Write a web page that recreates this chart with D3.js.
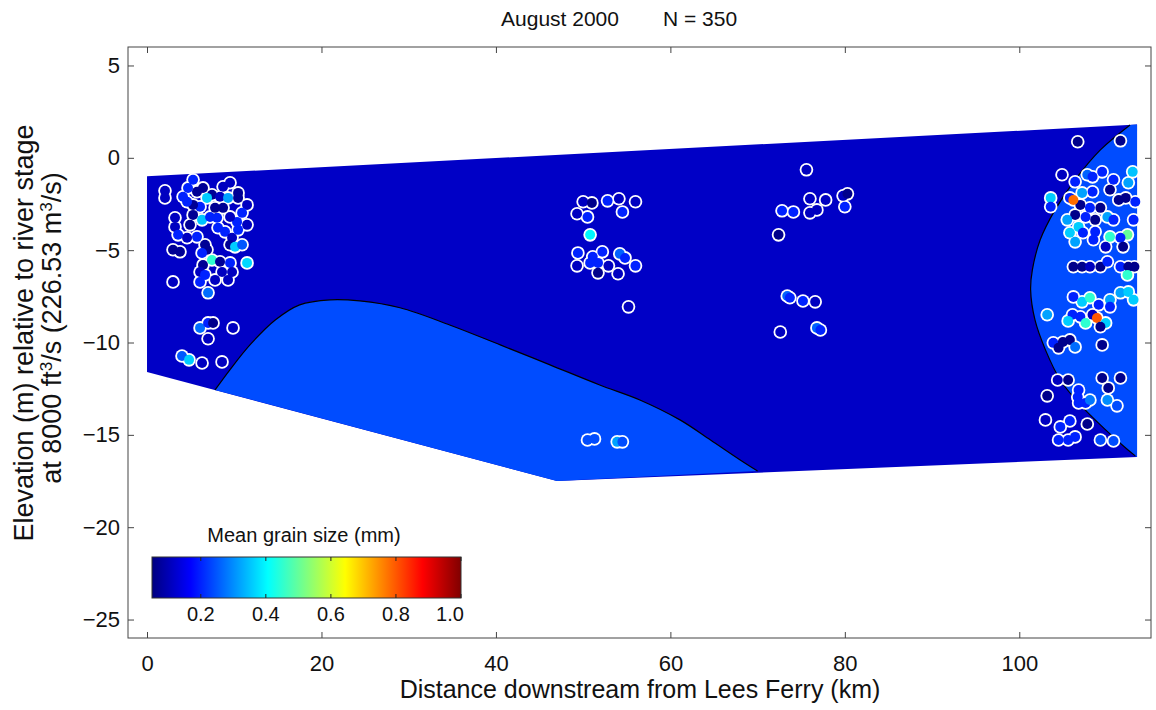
<!DOCTYPE html>
<html>
<head>
<meta charset="utf-8">
<script src="https://cdn.jsdelivr.net/npm/d3@7"></script>
<style>
  body { margin: 0; background: #fff; }
  text { font-family: "Liberation Sans", Arial, sans-serif; fill: #111; }
</style>
</head>
<body>
<svg id="vis" width="1156" height="710"></svg>
<script>
var MARGINS = {top: 47, right: 5, bottom: 72, left: 128};
var width = 1156, height = 710;

// axis ticks
var xTicks = [0, 20, 40, 60, 80, 100];
var yTicks = [5, 0, -5, -10, -15, -20, -25];
var cbTicks = [0.2, 0.4, 0.6, 0.8, 1.0];

// cross-section outline (km downstream, m elevation) and contour patches
var sectionOutline = [[0, -1], [113.5, 1.8], [113.5, -16.2], [47, -17.5], [0, -11.6]];
var sectionGrain = 0.115;
var lowerContour = [[7.8, -12.57], [9.5, -11.48], [11.8, -10.13], [14.7, -8.78], [17.5, -7.96],
  [21.0, -7.69], [24.4, -7.75], [29.0, -8.12], [34.7, -9.05], [40.5, -10.13], [46.2, -11.21],
  [51.9, -12.30], [56.5, -13.11], [61.1, -14.19], [64.6, -15.28], [68.0, -16.36], [70.0, -16.96]];
var lowerClose = [[47, -17.5]];
var rightContour = [[112.7, 1.78], [109.3, 0.43], [106.4, -1.19], [104.1, -2.82], [102.4, -4.44],
  [101.5, -6.07], [101.3, -7.15], [101.8, -8.78], [103.0, -10.40], [104.7, -12.03], [107.0, -13.38],
  [109.9, -14.73], [112.2, -15.71], [113.3, -16.14]];
var rightClose = [[113.5, -16.2], [113.5, 1.8]];
var patchGrain = 0.24;

// samples
var sampleKm = [
  2.06, 2.06, 5.28, 4.70, 4.13, 5.73, 6.42, 7.45, 8.37, 9.52, 8.72, 9.29, 10.44, 10.44, 11.47, 11.47,
  3.21, 3.21, 3.56, 2.98, 3.78, 4.93, 4.59, 5.73, 6.31, 7.23, 8.03, 8.14, 8.94, 9.75, 9.52, 10.09,
  10.44, 10.90, 10.32, 6.65, 6.88, 6.31, 7.45, 6.42, 6.08, 6.65, 8.37, 8.60, 9.52, 9.75, 11.47, 10.90,
  7.80, 6.08, 5.28, 4.59, 6.88, 5.28, 8.72, 9.52, 2.98, 6.08, 7.00, 7.80, 9.29, 6.08, 7.00, 7.57,
  9.86, 7.00, 4.01, 4.82, 6.31, 8.60,
  50.0, 51.0, 49.3, 50.5, 52.8, 54.1, 56.0, 54.5, 50.8, 49.4, 49.3, 51.1, 52.2, 51.7, 50.8, 52.9,
  51.7, 54.0, 54.2, 54.8, 56.0, 55.2, 50.5, 51.3, 53.9, 54.5,
  75.6, 76.0, 77.8, 79.8, 80.3, 80.0, 72.8, 74.1, 76.0, 76.8, 72.4, 73.4, 73.7, 75.2, 76.6, 72.6,
  76.8, 77.2,
  106.7, 111.6, 104.9, 106.4, 107.8, 108.4, 109.5, 110.8, 113.0, 112.5, 103.6, 103.6, 105.8, 107.2,
  108.4, 110.4, 111.4, 112.2, 113.3, 107.0, 106.2, 108.1, 109.3, 106.4, 107.6, 108.7, 110.1, 110.8,
  113.1, 105.5, 106.8, 105.8, 107.3, 108.7, 110.4, 112.4, 106.4, 108.5, 111.6, 109.9, 111.9,
  106.2, 107.2, 108.1, 109.3, 110.1, 111.6, 112.5, 113.2, 112.4,
  106.2, 107.2, 108.1, 109.1, 110.4, 111.6, 112.5, 113.1, 110.4, 103.2, 106.1, 105.6, 107.0, 107.6,
  108.4, 108.9, 109.9, 109.3,
  103.9, 104.5, 105.0, 105.8, 106.4, 109.5, 104.4, 105.6, 109.5, 111.6, 110.2, 103.2, 106.8, 106.7,
  106.8, 107.6, 108.1, 110.1, 111.2, 103.0, 104.7, 105.8, 107.8, 104.5, 105.6, 106.4, 109.3, 110.8
];
var sampleElev = [
  -1.79, -2.17, -1.19, -1.63, -2.11, -1.84, -1.63, -2.00, -2.11, -1.35, -1.57, -2.17, -1.90, -2.17, -2.55, -3.63,
  -3.25, -3.74, -4.17, -4.98, -5.09, -3.63, -4.33, -4.28, -3.36, -3.20, -3.25, -3.79, -4.01, -4.33, -4.71, -4.82,
  -3.90, -2.98, -3.47, -4.71, -4.98, -5.15, -5.53, -5.80, -6.18, -6.34, -5.63, -6.18, -5.69, -6.18, -5.69, -4.71,
  -2.71, -2.65, -2.55, -2.38, -2.17, -3.09, -2.71, -3.20, -6.72, -6.72, -7.31, -6.61, -6.61, -9.21, -8.94, -8.94,
  -9.21, -9.80, -10.73, -10.94, -11.11, -11.05,
  -2.38, -2.44, -3.03, -3.20, -2.33, -2.22, -2.38, -2.93, -4.17, -5.15, -5.85, -5.36, -5.09, -5.69, -5.69, -5.85,
  -6.23, -6.28, -5.20, -5.42, -5.85, -8.07, -15.28, -15.22, -15.38, -15.38,
  -0.65, -2.22, -2.28, -2.06, -1.95, -2.65, -2.87, -2.93, -2.98, -2.82, -4.17, -7.48, -7.58, -7.75, -7.80, -9.43,
  -9.21, -9.32,
  0.87, 0.92, -0.92, -1.30, -0.92, -1.03, -0.76, -1.19, -0.76, -1.35, -2.17, -2.65, -2.17, -1.90,
  -1.84, -1.73, -2.28, -2.17, -2.38, -2.55, -2.28, -2.71, -2.71, -3.09, -3.20, -3.36, -3.20, -3.36,
  -3.36, -3.36, -3.74, -4.06, -4.06, -4.01, -4.28, -4.17, -4.55, -4.44, -4.33, -4.82, -4.82,
  -5.90, -5.90, -5.90, -5.90, -5.63, -5.90, -5.90, -5.90, -6.34,
  -7.53, -7.80, -7.58, -7.96, -7.69, -7.31, -7.26, -7.69, -8.07, -8.50, -8.50, -8.83, -8.61, -8.94,
  -8.50, -8.67, -8.94, -9.15,
  -10.02, -10.29, -9.97, -9.86, -10.24, -10.13, -12.03, -12.03, -11.92, -11.92, -12.46, -12.89, -12.57, -12.95,
  -13.27, -13.27, -13.11, -13.11, -13.43, -14.19, -14.57, -14.25, -14.41, -15.28, -15.28, -15.11, -15.28, -15.33
];
var sampleGrain = [
  0.11, 0.11, 0.2, 0.2, 0.2, 0.07, 0.07, 0.07, 0.11, 0.11, 0.11, 0.32, 0.07, 0.07, 0.11, 0.11,
  0.11, 0.11, 0.2, 0.07, 0.07, 0.07, 0.11, 0.2, 0.35, 0.2, 0.2, 0.2, 0.2, 0.11, 0.07, 0.36,
  0.2, 0.2, 0.2, 0.07, 0.07, 0.2, 0.45, 0.07, 0.11, 0.2, 0.07, 0.11, 0.2, 0.11, 0.37, 0.25,
  0.07, 0.2, 0.07, 0.2, 0.36, 0.07, 0.07, 0.11, 0.11, 0.2, 0.27, 0.11, 0.11, 0.27, 0.2, 0.06,
  0.11, 0.11, 0.25, 0.36, 0.11, 0.11,
  0.11, 0.06, 0.11, 0.2, 0.2, 0.11, 0.11, 0.2, 0.4, 0.2, 0.11, 0.2, 0.2, 0.2, 0.2, 0.11,
  0.06, 0.11, 0.26, 0.2, 0.2, 0.11, 0.24, 0.24, 0.32, 0.24,
  0.11, 0.11, 0.11, 0.11, 0.06, 0.2, 0.2, 0.2, 0.11, 0.11, 0.06, 0.26, 0.2, 0.2, 0.11, 0.11,
  0.26, 0.2,
  0.06, 0.06, 0.11, 0.2, 0.26, 0.2, 0.2, 0.2, 0.35, 0.32, 0.36, 0.2, 0.2, 0.32,
  0.2, 0.06, 0.06, 0.06, 0.2, 0.06, 0.78, 0.2, 0.06, 0.06, 0.2, 0.06, 0.32, 0.2,
  0.2, 0.32, 0.36, 0.36, 0.2, 0.2, 0.45, 0.5, 0.32, 0.2, 0.2, 0.11, 0.06,
  0.06, 0.06, 0.11, 0.06, 0.2, 0.2, 0.06, 0.06, 0.45,
  0.2, 0.36, 0.45, 0.2, 0.32, 0.32, 0.36, 0.36, 0.2, 0.32, 0.2, 0.36, 0.2, 0.45,
  0.11, 0.8, 0.36, 0.06,
  0.2, 0.06, 0.06, 0.06, 0.27, 0.06, 0.11, 0.06, 0.06, 0.06, 0.06, 0.06, 0.2, 0.2,
  0.2, 0.2, 0.28, 0.3, 0.24, 0.11, 0.2, 0.2, 0.06, 0.2, 0.2, 0.2, 0.24, 0.24
];

// jet colour map over the grain-size range
var jetStops = [0.05, 0.16875, 0.40625, 0.64375, 0.88125, 1.0];
var jetColors = ["#000080", "#0000ff", "#00ffff", "#ffff00", "#ff0000", "#800000"];

var display = d3.select("#vis");

var plotL = MARGINS.left, plotR = 1151, plotT = MARGINS.top, plotB = height - MARGINS.bottom;

var x = d3.scaleLinear().domain([-2.18, 115.1]).range([plotL, plotR]);
var y = d3.scaleLinear().domain([-26, 6]).range([plotB, plotT]);
var color = d3.scaleLinear().domain(jetStops).range(jetColors).clamp(true);

var line = d3.line().x(d => x(d[0])).y(d => y(d[1]));
var curved = d3.line().x(d => x(d[0])).y(d => y(d[1])).curve(d3.curveCatmullRom);

// cross-section fill
display.append("path")
  .attr("d", line(sectionOutline) + "Z")
  .attr("fill", color(sectionGrain));

// contour patches
display.append("path")
  .attr("d", curved(lowerContour) + line(lowerClose).replace("M", "L") + "Z")
  .attr("fill", color(patchGrain));
display.append("path")
  .attr("d", curved(rightContour) + line(rightClose).replace("M", "L") + "Z")
  .attr("fill", color(patchGrain));

[lowerContour, rightContour].forEach(function (c) {
  display.append("path")
    .attr("d", curved(c))
    .attr("fill", "none")
    .attr("stroke", "#000")
    .attr("stroke-width", 1.2);
});

// samples: white halos first, then the coloured dots
var samples = sampleKm.map((k, i) => ({km: k, elev: sampleElev[i], grain: sampleGrain[i]}));

display.append("g").selectAll("circle")
  .data(samples).enter().append("circle")
  .attr("cx", d => x(d.km)).attr("cy", d => y(d.elev))
  .attr("r", 6.8).attr("fill", "#fff");
display.append("g").selectAll("circle")
  .data(samples).enter().append("circle")
  .attr("cx", d => x(d.km)).attr("cy", d => y(d.elev))
  .attr("r", 5).attr("fill", d => color(d.grain));

// axes box, ticks pointing inward on all four sides
var axisColor = "#444";
function styleAxis(g) {
  g.select(".domain").remove();
  g.selectAll("line").attr("stroke", axisColor);
  g.selectAll("text").style("font-size", "22px").attr("fill", "#111");
}
display.append("g")
  .attr("transform", `translate(0, ${plotB})`)
  .call(d3.axisBottom(x).tickValues(xTicks).tickSizeInner(-6).tickSizeOuter(0).tickPadding(17))
  .call(styleAxis);
display.append("g")
  .attr("transform", `translate(0, ${plotT})`)
  .call(d3.axisTop(x).tickValues(xTicks).tickSizeInner(-6).tickSizeOuter(0).tickFormat(""))
  .call(styleAxis);
display.append("g")
  .attr("transform", `translate(${plotL}, 0)`)
  .call(d3.axisLeft(y).tickValues(yTicks).tickSizeInner(-6).tickSizeOuter(0).tickPadding(8))
  .call(styleAxis);
display.append("g")
  .attr("transform", `translate(${plotR}, 0)`)
  .call(d3.axisRight(y).tickValues(yTicks).tickSizeInner(-6).tickSizeOuter(0).tickFormat(""))
  .call(styleAxis);
display.append("rect")
  .attr("x", plotL).attr("y", plotT)
  .attr("width", plotR - plotL).attr("height", plotB - plotT)
  .attr("fill", "none").attr("stroke", axisColor).attr("stroke-width", 1);

// titles and labels
display.append("text").attr("x", 560).attr("y", 26).attr("text-anchor", "middle")
  .style("font-size", "21px").text("August 2000");
display.append("text").attr("x", 700).attr("y", 26).attr("text-anchor", "middle")
  .style("font-size", "21px").text("N = 350");

display.append("text").attr("x", 640).attr("y", 698).attr("text-anchor", "middle")
  .style("font-size", "25px").text("Distance downstream from Lees Ferry (km)");

display.append("text")
  .attr("transform", "translate(33, 333) rotate(-90)")
  .attr("text-anchor", "middle").style("font-size", "27px")
  .text("Elevation (m) relative to river stage");
var yl2 = display.append("text")
  .attr("transform", "translate(61, 328) rotate(-90)")
  .attr("text-anchor", "middle").style("font-size", "27px");
yl2.append("tspan").text("at 8000 ft");
yl2.append("tspan").attr("baseline-shift", "super").style("font-size", "17px").text("3");
yl2.append("tspan").text("/s (226.53 m");
yl2.append("tspan").attr("baseline-shift", "super").style("font-size", "17px").text("3");
yl2.append("tspan").text("/s)");

// colour bar
var cb = {x0: 152, x1: 461, y0: 557, y1: 598};
var cbScale = d3.scaleLinear().domain([0.05, 1.0]).range([cb.x0, cb.x1]);
var grad = display.append("defs").append("linearGradient").attr("id", "jet")
  .attr("x1", "0%").attr("x2", "100%").attr("y1", "0%").attr("y2", "0%");
jetStops.forEach(function (s, i) {
  grad.append("stop")
    .attr("offset", ((s - 0.05) / 0.95 * 100) + "%")
    .attr("stop-color", jetColors[i]);
});
display.append("rect")
  .attr("x", cb.x0).attr("y", cb.y0)
  .attr("width", cb.x1 - cb.x0).attr("height", cb.y1 - cb.y0)
  .attr("fill", "url(#jet)").attr("stroke", "#333").attr("stroke-width", 1);
cbTicks.forEach(function (t, i) {
  var tx = cbScale(t);
  display.append("line").attr("x1", tx).attr("x2", tx).attr("y1", cb.y0).attr("y2", cb.y0 + 4)
    .attr("stroke", "#222");
  display.append("line").attr("x1", tx).attr("x2", tx).attr("y1", cb.y1).attr("y2", cb.y1 - 4)
    .attr("stroke", "#222");
  display.append("text")
    .attr("x", i === cbTicks.length - 1 ? tx - 11 : tx).attr("y", 621)
    .attr("text-anchor", "middle").style("font-size", "20px")
    .text(d3.format(".1f")(t));
});
display.append("text").attr("x", 304).attr("y", 542).attr("text-anchor", "middle")
  .style("font-size", "20px").text("Mean grain size (mm)");
</script>
</body>
</html>
